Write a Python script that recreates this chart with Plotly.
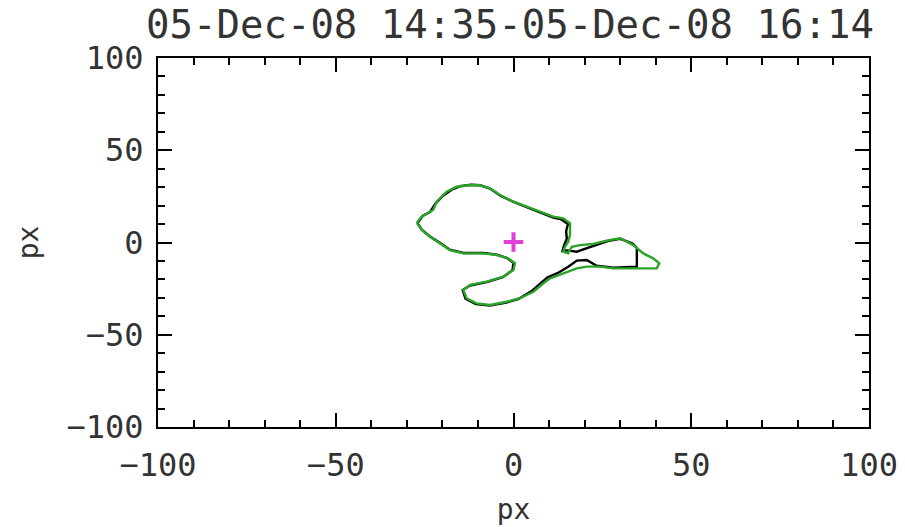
import plotly.graph_objects as go

title_text = "05-Dec-08 14:35-05-Dec-08 16:14"

green_x = [-27.2, -25.8, -22.6, -21.6, -18.8, -16.0, -12.2, -9.4, -6.6, -3.8, 0.0, 3.7, 7.5, 11.2, 14.0,
           15.9, 15.9, 15.4, 14.5, 14.0, 15.4, 16.4, 18.7, 22.4, 26.2, 30.0, 33.7, 36.5, 39.3, 41.0,
           40.3, 33.7, 28.1, 24.3, 20.6, 17.8, 14.0, 10.3, 8.4, 5.6, 1.8, -1.9, -6.6, -10.4, -13.2,
           -14.1, -12.2, -7.5, -2.9, 0.0, 0.4, -1.5, -4.7, -8.5, -14.1, -17.9, -20.7, -23.5, -25.8, -27.2]
green_y = [10.7, 14.0, 17.6, 22.1, 27.5, 30.2, 31.2, 31.0, 29.4, 25.7, 22.1, 19.4, 16.7, 14.0, 13.1,
           10.4, 4.1, 0.4, -2.3, -5.0, -5.9, -2.3, -1.4, -0.8, 1.0, 2.3, -1.4, -5.9, -8.6, -11.3,
           -14.0, -14.0, -14.0, -13.1, -13.1, -14.0, -16.7, -19.4, -22.1, -26.7, -30.2, -32.1, -33.9, -33.0, -30.2,
           -25.7, -23.0, -21.2, -18.5, -14.9, -11.3, -8.6, -6.8, -5.9, -5.9, -4.1, -0.4, 3.1, 6.8, 10.7]

black_x = [-27.0, -25.5, -23.5, -22.0, -20.0, -17.5, -15.0, -12.0, -9.4, -6.6, -3.8, 0.0, 3.7, 7.5, 11.2,
           13.5, 15.3, 14.8, 15.0, 14.2, 13.8, 15.0, 17.8, 21.5, 24.3, 26.5, 30.0, 33.5, 34.7, 34.7,
           34.7, 28.1, 23.4, 20.6, 17.8, 15.5, 12.5, 9.5, 7.5, 5.0, 1.5, -2.0, -6.6, -10.6, -13.5,
           -14.3, -12.2, -7.5, -3.0, -0.3, 0.0, -1.8, -4.7, -8.5, -14.1, -17.9, -20.7, -23.5, -25.8, -27.0]
black_y = [10.5, 14.5, 16.5, 21.0, 25.0, 28.5, 30.5, 31.3, 31.0, 29.2, 25.5, 22.0, 19.2, 16.2, 13.5,
           12.5, 10.0, 6.0, 2.0, -1.5, -4.5, -4.3, -5.0, -2.5, -0.6, 0.8, 2.0, -0.5, -3.0, -8.0,
           -13.1, -13.7, -12.6, -9.5, -9.8, -13.0, -16.5, -19.0, -22.5, -26.5, -30.5, -32.5, -34.2, -33.4, -30.5,
           -25.7, -23.3, -21.4, -18.8, -15.0, -11.0, -8.4, -6.6, -5.7, -5.7, -3.9, -0.2, 3.3, 7.0, 10.5]

center_x = [0.0]
center_y = [0.3]

x_ticks = [-100, -50, 0, 50, 100]
y_ticks = [-100, -50, 0, 50, 100]
tick_labels = ["\u2212100", "\u221250", "0", "50", "100"]

fig = go.Figure()
fig.add_trace(go.Scatter(x=black_x, y=black_y, mode="lines",
                         line=dict(color="black", width=2.4), showlegend=False))
fig.add_trace(go.Scatter(x=green_x, y=green_y, mode="lines",
                         line=dict(color="#2aa52a", width=2.4), showlegend=False))
fig.add_trace(go.Scatter(x=center_x, y=center_y, mode="markers",
                         marker=dict(symbol="cross-thin", size=14,
                                     line=dict(color="#e23fd8", width=4)),
                         showlegend=False))

font_family = "DejaVu Sans Mono"
text_color = "#333"
axis_common = dict(
    showgrid=False, zeroline=False, showline=True, linecolor="black", linewidth=2,
    mirror="ticks", ticks="inside", ticklen=14, tickwidth=1.5, tickcolor="black",
    tickfont=dict(family=font_family, size=32, color=text_color),
    minor=dict(ticks="inside", ticklen=7, tickwidth=1.5, tickcolor="black", dtick=10),
    automargin=False,
)

fig.update_layout(
    width=905, height=527,
    margin=dict(l=158, r=36, t=58, b=100),
    paper_bgcolor="white", plot_bgcolor="white",
    title=dict(text=title_text, x=0.5635, xanchor="center", y=0.9535, yanchor="middle",
               font=dict(family=font_family, size=39, color=text_color)),
    xaxis=dict(range=[-100, 100], tickvals=x_ticks, ticktext=tick_labels,
               title=dict(text="px", font=dict(family=font_family, size=28, color=text_color), standoff=16),
               ticklabelstandoff=9, **axis_common),
    yaxis=dict(range=[-100, 100], tickvals=y_ticks, ticktext=tick_labels,
               title=dict(text="px", font=dict(family=font_family, size=28, color=text_color), standoff=20),
               ticklabelstandoff=6, **axis_common),
)

fig.write_html("out.html", config={"displayModeBar": False},
               post_script="document.body.style.margin='0px';")
